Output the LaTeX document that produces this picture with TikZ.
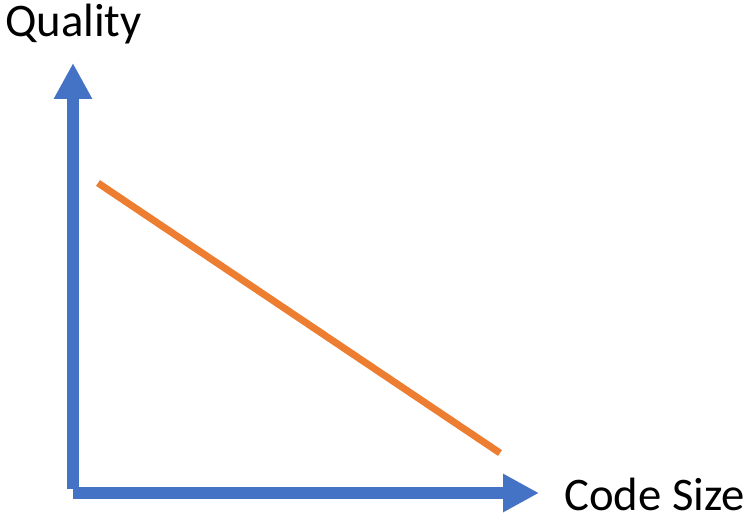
\documentclass[tikz,border=0pt]{standalone}
\usepackage{fontspec}
\setmainfont{Carlito}
\usetikzlibrary{arrows.meta}
\definecolor{axisblue}{HTML}{4472C4}
\definecolor{lineorange}{HTML}{ED7D31}
\tikzset{
  axis/.style={draw=axisblue, line width=12pt, -{Triangle[width=36pt,length=36pt]}},
  trend/.style={draw=lineorange, line width=7pt},
  lbl/.style={inner sep=0pt, anchor=base west, font=\fontsize{46.7}{56}\selectfont}
}
\begin{document}
\begin{tikzpicture}[x=1pt,y=1pt]
\useasboundingbox (0,0) rectangle (749,515);
\coordinate (vstart) at (73,26);
\coordinate (vtip) at (73,452);
\coordinate (hstart) at (73,22);
\coordinate (htip) at (539,22);
\coordinate (l1) at (98,332);
\coordinate (l2) at (500,62);
\draw[axis] (vstart) -- (vtip);
\draw[axis] (hstart) -- (htip);
\draw[trend] (l1) -- (l2);
\node[lbl] (q) at (5,478) {Quality};
\node[lbl] (c) at (564,5) {Code Size};
\end{tikzpicture}
\end{document}
